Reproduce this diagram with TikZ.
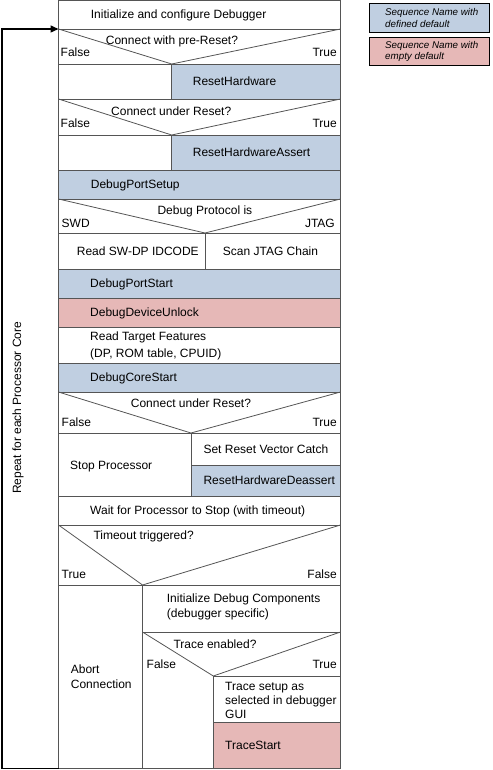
\documentclass[tikz,border=0pt]{standalone}
\usepackage{fontspec}
\setmainfont{Liberation Sans}
\usetikzlibrary{arrows.meta}
\definecolor{seqblue}{RGB}{192,207,225}
\definecolor{seqred}{RGB}{230,184,183}
\definecolor{linegray}{RGB}{85,85,85}
\tikzset{
  cellline/.style={draw=linegray, line width=0.8pt},
  bluefill/.style={fill=seqblue},
  redfill/.style={fill=seqred},
  lbl/.style={font=\fontsize{12}{15}\selectfont, inner sep=0pt, anchor=mid west, align=left, yshift=-1.4pt},
  lblr/.style={lbl, anchor=mid east},
  legendbox/.style={draw=black, line width=0.8pt},
  legendtxt/.style={font=\fontsize{9.8}{11.8}\selectfont\itshape, inner sep=0pt, anchor=west, align=left},
  loopline/.style={draw=black, line width=1.5pt, -{Triangle[length=8pt,width=7pt]}},
}
\begin{document}
\begin{tikzpicture}[x=1pt,y=-1pt]
\useasboundingbox (0,0) rectangle (492,770);
% ---- fills
\fill[bluefill] (171.7,64) rectangle (340.5,99);
\fill[bluefill] (171.7,135) rectangle (340.5,170);
\fill[bluefill] (58.5,170) rectangle (340.5,199);
\fill[bluefill] (58.5,269) rectangle (340.5,298);
\fill[redfill] (58.5,298) rectangle (340.5,327);
\fill[bluefill] (58.5,363) rectangle (340.5,392);
\fill[bluefill] (191,465) rectangle (340.5,496);
\fill[redfill] (213.3,722) rectangle (340.5,768.5);
% ---- structure lines
\draw[cellline] (58.5,0) rectangle (340.5,768.5);
\foreach \yy in {29,64,99,135,170,199,233,269,298,327,363,392,433,496,525,585}
  \draw[cellline] (58.5,\yy) -- (340.5,\yy);
% decision 1
\draw[cellline] (58.5,29) -- (171.7,64) -- (340.5,29);
\draw[cellline] (171.7,64) -- (171.7,99);
% decision 2
\draw[cellline] (58.5,99) -- (171.7,135) -- (340.5,99);
\draw[cellline] (171.7,135) -- (171.7,170);
% decision 3
\draw[cellline] (58.5,199) -- (205,233) -- (340.5,199);
\draw[cellline] (205,233) -- (205,269);
% decision 4
\draw[cellline] (58.5,392) -- (191,433) -- (340.5,392);
\draw[cellline] (191,433) -- (191,496);
\draw[cellline] (191,465) -- (340.5,465);
% decision 5
\draw[cellline] (58.5,525) -- (142.5,585) -- (340.5,525);
\draw[cellline] (142.5,585) -- (142.5,768.5);
\draw[cellline] (142.5,632) -- (340.5,632);
% decision 6
\draw[cellline] (142.5,632) -- (213.3,676) -- (340.5,632);
\draw[cellline] (213.3,676) -- (340.5,676);
\draw[cellline] (213.3,676) -- (213.3,768.5);
\draw[cellline] (213.3,722) -- (340.5,722);
% ---- texts
\node[lbl] (init) at (90.7,14.5) {Initialize and configure Debugger};
\node[lbl] (q1) at (105.7,40) {Connect with pre-Reset?};
\node[lbl] (q1f) at (60.5,52.5) {False};
\node[lblr] (q1t) at (337,52.5) {True};
\node[lbl] (rh) at (192.7,81.5) {ResetHardware};
\node[lbl] (q2) at (111,111) {Connect under Reset?};
\node[lbl] (q2f) at (60.5,123.5) {False};
\node[lblr] (q2t) at (337,123.5) {True};
\node[lbl] (rha) at (192.7,152.5) {ResetHardwareAssert};
\node[lbl] (dps) at (90.7,184.5) {DebugPortSetup};
\node[lbl] (q3) at (157.3,210) {Debug Protocol is};
\node[lbl] (q3f) at (61.5,223) {SWD};
\node[lblr] (q3t) at (335,223) {JTAG};
\node[lbl] (swd) at (76.7,251.5) {Read SW-DP IDCODE};
\node[lbl] (jtag) at (222.7,251.5) {Scan JTAG Chain};
\node[lbl] (dpst) at (90,283.5) {DebugPortStart};
\node[lbl] (ddu) at (90,312) {DebugDeviceUnlock};
\node[lbl, font=\fontsize{12}{16.5}\selectfont] (rtf) at (90,353.3) {Read Target Features\\(DP, ROM table, CPUID)};
\node[lbl] (dcs) at (90,377) {DebugCoreStart};
\node[lbl] (q4) at (130.7,403) {Connect under Reset?};
\node[lbl] (q4f) at (61.5,422) {False};
\node[lblr] (q4t) at (337,422) {True};
\node[lbl] (stop) at (70,465) {Stop Processor};
\node[lbl] (srvc) at (203.3,449) {Set Reset Vector Catch};
\node[lbl] (rhd) at (203.3,480.5) {ResetHardwareDeassert};
\node[lbl] (wait) at (90,510.5) {Wait for Processor to Stop (with timeout)};
\node[lbl] (q5) at (93.3,535.5) {Timeout triggered?};
\node[lbl] (q5t) at (61.5,574) {True};
\node[lblr] (q5f) at (337,574) {False};
\node[lbl, font=\fontsize{12}{14.7}\selectfont] (abort) at (70.7,684) {Abort\\Connection};
\node[lbl] (idc) at (166.7,613.3) {Initialize Debug Components\\(debugger specific)};
\node[lbl] (q6) at (173.3,644) {Trace enabled?};
\node[lbl] (q6f) at (146.5,664) {False};
\node[lblr] (q6t) at (337,664) {True};
\node[lbl, font=\fontsize{12}{13.7}\selectfont] (tsu) at (225,714) {Trace setup as\\selected in debugger\\GUI};
\node[lbl] (tst) at (225,745.5) {TraceStart};
% ---- loop arrow
\coordinate (loopstart) at (58.5,768.5);
\coordinate (looptop) at (58.5,29);
\draw[loopline] (loopstart) -- (2,768.5) -- (2,29) -- (looptop);
\node[lbl, anchor=mid, rotate=90, yshift=0pt] (repeat) at (18.5,406.5) {Repeat for each Processor Core};
% ---- legend
\draw[legendbox, bluefill] (369.5,3.5) rectangle (489.5,32.5);
\draw[legendbox, redfill] (369.5,37.5) rectangle (489.5,65.5);
\node[legendtxt] (lg1) at (385,18) {Sequence Name with\\defined default};
\node[legendtxt] (lg2) at (385,51.5) {Sequence Name with\\empty default};
\end{tikzpicture}
\end{document}
